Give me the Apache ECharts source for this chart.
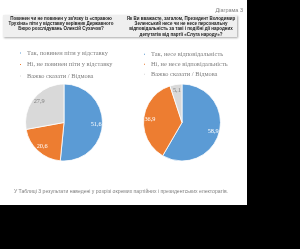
<!DOCTYPE html>
<html><head><meta charset="utf-8">
<script src="https://cdn.jsdelivr.net/npm/echarts@6/dist/echarts.min.js"></script>
<style>
html,body{margin:0;padding:0;background:#000;width:300px;height:249px;overflow:hidden}
#c{position:absolute;left:0;top:0;width:247px;height:205px;background:#fff}
</style></head><body><div id="c"></div>
<script>
const leftNames = ['Так, повинен піти у відставку','Ні, не повинен піти у відставку','Важко сказати / Відмова'];
const leftValues = [51.6, 20.6, 27.9];
const rightNames = ['Так, несе відповідальність','Ні, не несе відповідальність','Важко сказати / Відмова '];
const rightValues = [58.9, 36.9, 5.1];
const sliceColors = ['#5B9BD5','#ED7D31','#D9D9D9'];
const labelColors = ['#ffffff','#ffffff','#7f7f7f'];
const leftTitle = ['Повинен чи не повинен у зв\'язку із «справою','Трухіна» піти у відставку керівник Державного','Бюро розслідувань Олексій Сухачов?'];
const rightTitle = ['Як Ви вважаєте, загалом, Президент Володимир','Зеленський несе чи не несе персональну','відповідальність за такі і подібні дії народних','депутатів від партії «Слуга народу»?'];
const caption = 'Діаграма 3';
const footnote = 'У Таблиці 3 результати наведені у розрізі окремих партійних і президентських електоратів.';

const chart = echarts.init(document.getElementById('c'), null, {renderer:'canvas'});
const fmt = p => String(p.value).replace('.', ',');

function mainPie(names, values, cx){
  return {type:'pie', center:[cx,122.5], radius:[0,38.5], startAngle:90, clockwise:true,
    label:{show:false}, labelLine:{show:false}, silent:true,
    itemStyle:{borderColor:'#fff', borderWidth:0.8},
    data: names.map((n,i)=>({name:n, value:values[i], itemStyle:{color:sliceColors[i]}}))};
}
function labelPie(names, values, cx){
  return {type:'pie', center:[cx,122.5], radius:[20,38.5], startAngle:90, clockwise:true,
    silent:true, labelLine:{show:false}, legendHoverLink:false,
    itemStyle:{color:'rgba(0,0,0,0)'},
    label:{show:true, position:'inside', formatter:fmt, fontFamily:'Liberation Serif', fontSize:6.3},
    data: names.map((n,i)=>({name:n, value:values[i], label:{color:labelColors[i]}}))};
}
function legend(names, left, top, gap){
  return {orient:'vertical', left:left, top:top, icon:'rect', itemWidth:3, itemHeight:3, itemGap:gap,
    selectedMode:false, padding:0,
    textStyle:{fontFamily:'Liberation Serif', fontSize:6.4, color:'#808080', lineHeight:6},
    data: names.map((n,i)=>({name:n, itemStyle:{color:sliceColors[i]}}))};
}
const hdr = [];
hdr.push({type:'rect', shape:{x:3,y:15,width:234,height:22}, style:{fill:'#efefef', shadowBlur:2, shadowColor:'rgba(0,0,0,0.35)', shadowOffsetY:1, shadowOffsetX:1}, z:1});
leftTitle.forEach((t,i)=>hdr.push({type:'text', x:61, y:18.3+i*5.4, style:{text:t, fill:'#1a1a1a', font:'bold 4.5px "Liberation Sans"', align:'center', verticalAlign:'middle'}, z:2}));
rightTitle.forEach((t,i)=>hdr.push({type:'text', x:181, y:18.3+i*5.4, style:{text:t, fill:'#1a1a1a', font:'bold 4.5px "Liberation Sans"', align:'center', verticalAlign:'middle'}, z:2}));
hdr.push({type:'text', x:243, y:10, style:{text:caption, fill:'#7f7f7f', font:'5.5px "Liberation Sans"', align:'right', verticalAlign:'middle'}, z:2});
hdr.push({type:'text', x:121, y:191.5, style:{text:footnote, fill:'#7f7f7f', font:'5.1px "Liberation Sans"', align:'center', verticalAlign:'middle'}, z:2});

chart.setOption({
  animation:false,
  backgroundColor:'#fff',
  legend:[legend(leftNames, 18, 50, 5.5), legend(rightNames, 142, 51.3, 4)],
  graphic: hdr,
  series:[mainPie(leftNames,leftValues,64), labelPie(leftNames,leftValues,64),
          mainPie(rightNames,rightValues,182), labelPie(rightNames,rightValues,182)]
});
</script></body></html>
